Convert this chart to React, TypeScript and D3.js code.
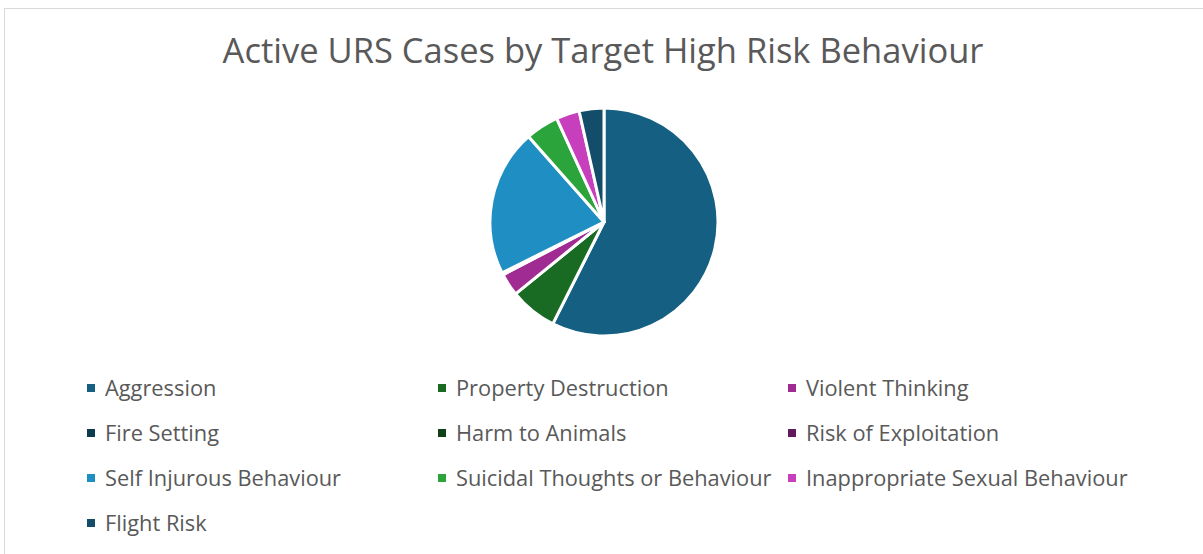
import React, { useRef, useEffect } from "react";
import * as d3 from "d3";

const categories = [
  "Aggression",
  "Property Destruction",
  "Violent Thinking",
  "Fire Setting",
  "Harm to Animals",
  "Risk of Exploitation",
  "Self Injurous Behaviour",
  "Suicidal Thoughts or Behaviour",
  "Inappropriate Sexual Behaviour",
  "Flight Risk",
];
const values = [57.3, 6.7, 3.2, 0.3, 0, 0, 20.8, 4.7, 3.3, 3.5];
const colors = [
  "#156082",
  "#196b24",
  "#a02b93",
  "#0e3a4d",
  "#0f4016",
  "#60195a",
  "#1f8fc3",
  "#2ba43c",
  "#c83fbe",
  "#134d69",
];
const title = "Active URS Cases by Target High Risk Behaviour";

export default function App() {
  const ref = useRef<SVGSVGElement>(null);

  useEffect(() => {
    const svg = d3.select(ref.current);
    svg.selectAll("*").remove();
    const W = 1203;
    const H = 554;

    svg
      .append("rect")
      .attr("x", 4.5)
      .attr("y", 8.5)
      .attr("width", W)
      .attr("height", H)
      .attr("fill", "#fff")
      .attr("stroke", "#d9d9d9");

    svg
      .append("text")
      .attr("x", 603)
      .attr("y", 63)
      .attr("text-anchor", "middle")
      .attr("font-family", "Open Sans, sans-serif")
      .attr("font-size", 34.5)
      .attr("fill", "#595959")
      .text(title);

    const data = categories.map((c, i) => ({ name: c, value: values[i], color: colors[i] }));
    const pie = d3.pie<any>().sort(null).value((d) => d.value);
    const arc = d3.arc<any>().innerRadius(0).outerRadius(114);

    svg
      .append("g")
      .attr("transform", "translate(604,222)")
      .selectAll("path")
      .data(pie(data))
      .enter()
      .append("path")
      .attr("d", arc)
      .attr("fill", (d) => d.data.color)
      .attr("stroke", "#fff")
      .attr("stroke-width", 3)
      .attr("stroke-linejoin", "round");

    const colX = [87, 438, 788];
    const rowY = [388, 433, 478, 523];
    const legend = svg
      .append("g")
      .selectAll("g")
      .data(data)
      .enter()
      .append("g")
      .attr("transform", (d, i) => `translate(${colX[i % 3]},${rowY[Math.floor(i / 3)]})`);
    legend
      .append("rect")
      .attr("x", 0)
      .attr("y", -4)
      .attr("width", 8)
      .attr("height", 8)
      .attr("fill", (d) => d.color);
    legend
      .append("text")
      .attr("x", 18)
      .attr("y", 8)
      .attr("font-family", "Open Sans, sans-serif")
      .attr("font-size", 21.8)
      .attr("fill", "#595959")
      .text((d) => d.name);
  }, []);

  return (
    <svg
      ref={ref}
      width={1203}
      height={554}
      style={{ position: "absolute", left: 0, top: 0, display: "block" }}
    />
  );
}
